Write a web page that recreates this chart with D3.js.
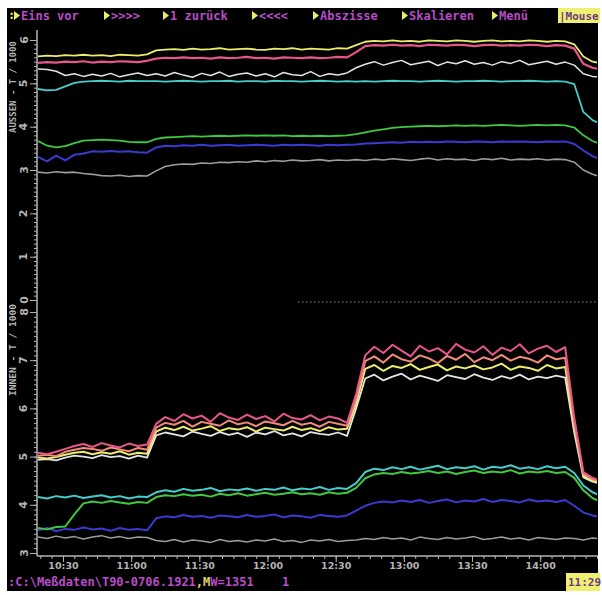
<!DOCTYPE html>
<html><head><meta charset="utf-8">
<script src="https://cdn.jsdelivr.net/npm/d3@7"></script>
<style>html,body{margin:0;padding:0;background:#fff;}svg{display:block;}</style>
</head><body><svg id="c" width="602" height="595"></svg>
<script>
// ---------- DATA ----------
const times = ["10:19","10:23","10:27","10:31","10:35","10:39","10:43","10:47","10:51","10:55","10:59",
"11:03","11:07","11:11","11:15","11:19","11:23","11:27","11:31","11:35","11:39","11:43","11:47","11:51","11:55","11:59",
"12:03","12:07","12:11","12:15","12:19","12:23","12:27","12:31","12:35","12:39","12:43","12:47","12:51","12:55","12:59",
"13:03","13:07","13:11","13:15","13:19","13:23","13:27","13:31","13:35","13:39","13:43","13:47","13:51","13:55","13:59",
"14:03","14:07","14:11","14:15","14:19","14:23","14:27"];
const xTickLabels = ["10:30","11:00","11:30","12:00","12:30","13:00","13:30","14:00"];
const upperTicks = [0,1,2,3,4,5,6];
const lowerTicks = [3,4,5,6,7,8];
const upperTitle = "AUSSEN - T / 1000";
const lowerTitle = "INNEN - T / 1000";
const menuLabels = ["Eins vor",">>>>","1 zurück","<<<<","Abszisse","Skalieren","Menü"];
const mouseLabel = "|Mouse";
const statusPath = ":C:\\Meßdaten\\T90-0706.1921";
const statusMark = ",M";
const statusValue = "W=1351";
const statusIndex = "1";
const clockLabel = "11:29";

// upper panel (AUSSEN-T / 1000)
const aussenYellow = [5.62,5.64,5.63,5.65,5.64,5.66,5.64,5.65,5.63,5.66,5.65,5.64,5.67,
5.76,5.78,5.79,5.77,5.80,5.78,5.79,5.81,5.78,5.79,5.80,5.78,5.77,5.80,5.79,5.81,5.78,5.80,5.79,5.78,5.81,5.80,
5.88,
5.96,5.98,5.97,5.99,5.97,5.98,5.96,5.99,5.98,5.97,5.99,5.98,5.96,5.98,5.99,5.97,5.98,5.97,5.99,5.98,5.96,5.98,5.97,
5.90,5.62,5.50,5.46];
const aussenPink = [5.47,5.49,5.48,5.50,5.49,5.51,5.48,5.50,5.49,5.51,5.50,5.49,5.52,
5.57,5.59,5.58,5.60,5.58,5.59,5.57,5.60,5.58,5.59,5.61,5.58,5.59,5.57,5.60,5.59,5.58,5.60,5.58,5.59,5.61,5.60,
5.72,
5.86,5.88,5.87,5.89,5.87,5.88,5.86,5.89,5.88,5.87,5.89,5.88,5.86,5.88,5.89,5.87,5.88,5.87,5.89,5.88,5.86,5.88,5.87,
5.80,5.45,5.36,5.32];
const aussenWhite = [5.33,5.32,5.28,5.18,5.22,5.16,5.21,5.17,5.23,5.15,5.20,5.24,5.18,
5.22,5.17,5.25,5.19,5.14,5.23,5.18,5.26,5.16,5.21,5.24,5.17,5.22,5.15,5.25,5.20,5.18,5.27,5.16,5.22,5.19,5.24,
5.36,
5.44,5.50,5.42,5.48,5.53,5.43,5.47,5.51,5.41,5.49,5.45,5.52,5.44,5.48,5.42,5.50,5.46,5.53,5.43,5.47,5.51,5.44,5.49,
5.42,5.22,5.16,5.14];
const aussenCyan = [4.87,4.84,4.85,4.93,5.01,5.04,5.05,5.06,5.05,5.04,5.06,5.05,5.05,
5.05,5.04,5.05,5.06,5.05,5.04,5.05,5.05,5.06,5.04,5.05,5.05,5.04,5.06,5.05,5.05,5.04,5.05,5.06,5.05,5.04,5.05,
5.04,
5.05,5.04,5.05,5.06,5.05,5.05,5.04,5.05,5.06,5.05,5.04,5.05,5.05,5.06,5.05,5.04,5.05,5.05,5.06,5.05,5.04,5.05,5.04,
4.98,4.34,4.15,4.05];
const aussenGreen = [3.67,3.56,3.52,3.55,3.62,3.68,3.69,3.70,3.69,3.68,3.65,3.64,3.64,
3.72,3.75,3.76,3.77,3.78,3.77,3.78,3.79,3.78,3.79,3.80,3.79,3.80,3.79,3.80,3.78,3.79,3.78,3.79,3.78,3.79,3.80,
3.83,3.87,3.91,3.94,3.97,3.99,4.00,4.01,4.02,4.01,4.02,4.03,4.02,4.03,4.02,4.03,4.04,4.03,4.02,4.03,4.04,4.03,4.04,4.03,
3.98,3.80,3.67,3.59];
const aussenBlue = [3.30,3.20,3.33,3.22,3.35,3.38,3.43,3.42,3.44,3.42,3.43,3.41,3.40,
3.52,3.56,3.55,3.57,3.56,3.58,3.56,3.57,3.58,3.56,3.57,3.58,3.57,3.56,3.58,3.57,3.58,3.57,3.56,3.58,3.57,3.58,
3.59,3.61,3.62,3.63,3.64,3.63,3.65,3.64,3.65,3.64,3.66,3.65,3.64,3.66,3.65,3.64,3.66,3.65,3.66,3.65,3.64,3.66,3.65,3.66,
3.60,3.45,3.32,3.24];
const aussenGray = [2.95,2.93,2.96,2.94,2.95,2.92,2.90,2.87,2.86,2.88,2.85,2.87,2.86,
2.98,3.08,3.12,3.14,3.13,3.16,3.15,3.18,3.17,3.19,3.18,3.21,3.19,3.22,3.20,3.23,3.21,3.22,3.24,3.21,3.23,3.22,
3.24,3.22,3.25,3.23,3.26,3.24,3.22,3.25,3.27,3.23,3.26,3.24,3.25,3.22,3.26,3.24,3.27,3.23,3.25,3.24,3.26,3.23,3.25,3.24,
3.18,3.00,2.90,2.84];

// lower panel (INNEN-T / 1000)
const innenPink = [5.08,5.05,5.10,5.16,5.22,5.26,5.20,5.28,5.23,5.19,5.27,5.22,5.25,
5.68,5.82,5.74,5.88,5.79,5.85,5.72,5.90,5.81,5.76,5.87,5.78,5.84,5.73,5.89,5.80,5.77,5.86,5.75,5.83,5.79,5.70,
6.30,
7.10,7.28,7.15,7.32,7.20,7.08,7.30,7.18,7.25,7.12,7.34,7.22,7.16,7.29,7.11,7.26,7.19,7.33,7.14,7.24,7.30,7.17,7.27,
5.80,4.68,4.56,4.49];
const innenSalmon = [5.02,5.04,5.01,5.10,5.14,5.18,5.16,5.12,5.19,5.15,5.11,5.18,5.14,
5.60,5.70,5.66,5.74,5.62,5.72,5.68,5.64,5.75,5.67,5.71,5.63,5.73,5.69,5.65,5.74,5.66,5.70,5.62,5.72,5.68,5.64,
6.20,
6.98,7.08,6.95,7.12,7.02,6.97,7.10,7.04,6.94,7.09,7.01,7.13,6.96,7.06,7.00,7.11,6.99,7.07,7.03,6.95,7.10,7.02,7.05,
5.70,4.64,4.53,4.47];
const innenYellow = [4.98,4.96,4.99,5.04,5.08,5.10,5.05,5.09,5.06,5.11,5.04,5.08,5.06,
5.52,5.60,5.55,5.62,5.54,5.58,5.63,5.53,5.59,5.56,5.61,5.52,5.60,5.57,5.54,5.62,5.55,5.59,5.53,5.61,5.56,5.58,
6.10,
6.82,6.90,6.78,6.88,6.84,6.92,6.80,6.86,6.91,6.79,6.87,6.83,6.89,6.81,6.85,6.93,6.80,6.87,6.84,6.78,6.90,6.83,6.86,
5.60,4.60,4.50,4.45];
const innenWhite = [4.93,4.95,4.92,4.98,5.02,5.00,4.97,5.03,4.99,5.01,4.96,5.02,4.98,
5.44,5.50,5.46,5.42,5.52,5.47,5.43,5.51,5.45,5.49,5.41,5.50,5.46,5.53,5.44,5.48,5.42,5.51,5.47,5.45,5.50,5.43,
6.00,
6.62,6.70,6.58,6.66,6.72,6.60,6.68,6.63,6.57,6.69,6.65,6.61,6.71,6.64,6.59,6.67,6.62,6.70,6.60,6.66,6.63,6.68,6.64,
5.50,4.57,4.48,4.43];
const innenCyan = [4.16,4.13,4.18,4.15,4.19,4.14,4.17,4.20,4.15,4.18,4.13,4.17,4.16,
4.26,4.30,4.27,4.33,4.29,4.31,4.35,4.28,4.32,4.30,4.34,4.29,4.33,4.31,4.36,4.30,4.34,4.32,4.37,4.31,4.35,4.33,
4.45,
4.68,4.75,4.72,4.78,4.74,4.79,4.73,4.77,4.81,4.74,4.78,4.76,4.80,4.73,4.79,4.77,4.82,4.75,4.78,4.74,4.80,4.76,4.79,
4.66,4.40,4.26,4.18];
const innenGreen = [3.52,3.49,3.54,3.55,3.80,4.03,4.07,4.04,4.08,4.05,4.02,4.06,4.04,
4.16,4.20,4.18,4.22,4.19,4.21,4.17,4.23,4.20,4.24,4.19,4.22,4.25,4.21,4.23,4.26,4.22,4.24,4.21,4.26,4.23,4.25,
4.35,
4.55,4.63,4.66,4.64,4.68,4.65,4.67,4.70,4.66,4.69,4.64,4.68,4.71,4.66,4.69,4.67,4.72,4.65,4.69,4.67,4.70,4.66,4.68,
4.56,4.30,4.14,4.05];
const innenBlue = [3.47,3.52,3.45,3.50,3.48,3.53,3.49,3.51,3.46,3.52,3.48,3.50,3.47,
3.72,3.76,3.74,3.79,3.75,3.77,3.73,3.78,3.76,3.74,3.79,3.75,3.77,3.80,3.74,3.78,3.76,3.73,3.79,3.77,3.75,3.78,
3.88,
3.98,4.04,4.07,4.05,4.09,4.06,4.10,4.04,4.08,4.11,4.05,4.09,4.07,4.12,4.06,4.10,4.08,4.05,4.11,4.07,4.09,4.06,4.10,
3.98,3.84,3.78,3.74];
const innenGray = [3.33,3.30,3.35,3.31,3.34,3.29,3.33,3.36,3.31,3.34,3.30,3.33,3.32,
3.26,3.24,3.28,3.23,3.27,3.25,3.22,3.28,3.24,3.26,3.23,3.27,3.25,3.29,3.24,3.26,3.22,3.27,3.25,3.28,3.24,3.26,
3.27,
3.30,3.28,3.32,3.29,3.31,3.27,3.33,3.30,3.28,3.32,3.29,3.31,3.34,3.28,3.30,3.33,3.29,3.31,3.27,3.32,3.30,3.28,3.31,
3.30,3.27,3.31,3.29];

// ---------- DRAW ----------
const svg = d3.select("#c");
const parse = d3.timeParse("%H:%M");
const tDates = times.map(parse);

const PL = 38, PR = 597;
const x = d3.scaleTime().domain([parse("10:19"), parse("14:25")]).range([PL, PR]);
const yU = d3.scaleLinear().domain([0, 6]).range([300, 40]);
const yL = d3.scaleLinear().domain([3, 8]).range([553, 312]);

const C = {yellow:"#ecec6c", pink:"#e8568a", salmon:"#f08c78", white:"#e4e4e4",
           cyan:"#46cccc", green:"#40c840", blue:"#3a3ad2", gray:"#9c9c9c"};
const axisCol = "#b4b4b4";
const mono = "'DejaVu Sans Mono', monospace";

// screen background
svg.append("rect").attr("x",7).attr("y",8).attr("width",591).attr("height",583).attr("fill","#000");

svg.append("defs").append("clipPath").attr("id","plot")
  .append("rect").attr("x",PL).attr("y",30).attr("width",PR-PL).attr("height",526);

// menu bar
const menuX = [14,104,163,252,313,402,492];
svg.append("text").attr("x",8).attr("y",19).attr("fill",C.yellow)
  .attr("font-family",mono).attr("font-weight","bold").attr("font-size",12).text(":");
menuLabels.forEach((m,i)=>{
  const tx = menuX[i];
  svg.append("path").attr("d",`M${tx},11 L${tx+6},15.5 L${tx},20 Z`).attr("fill",C.yellow);
  svg.append("text").attr("x",tx+7).attr("y",19.5).attr("fill","#b84cc8")
    .attr("font-family",mono).attr("font-weight","bold").attr("font-size",12).text(m);
});
svg.append("rect").attr("x",558).attr("y",8).attr("width",42).attr("height",15).attr("fill","#f0f070");
svg.append("text").attr("x",559).attr("y",19.5).attr("fill","#6a3a8a")
  .attr("font-family",mono).attr("font-weight","bold").attr("font-size",11).text(mouseLabel);

// status line
const st = svg.append("text").attr("x",8).attr("y",586)
  .attr("font-family",mono).attr("font-weight","bold").attr("font-size",12).attr("fill","#b84cc8");
st.append("tspan").text(statusPath);
st.append("tspan").attr("fill","#d8d860").text(statusMark);
st.append("tspan").text(statusValue);
svg.append("text").attr("x",282).attr("y",586).attr("font-family",mono).attr("font-weight","bold")
  .attr("font-size",12).attr("fill","#b84cc8").text(statusIndex);
svg.append("rect").attr("x",566).attr("y",573).attr("width",34).attr("height",18).attr("fill","#f0f070");
svg.append("text").attr("x",568).attr("y",586).attr("fill","#6a3a8a")
  .attr("font-family",mono).attr("font-weight","bold").attr("font-size",11).text(clockLabel);

// y axes (minor ticks)
function yAxis(scale, lo, hi, ticks){
  const minor = d3.range(lo, hi + 0.001, 0.1);
  const gm = svg.append("g").attr("transform","translate(37,0)")
    .call(d3.axisLeft(scale).tickValues(minor).tickSize(3).tickFormat(""));
  gm.select(".domain").remove();
  gm.selectAll("line").attr("stroke",axisCol);
  const gM = svg.append("g").attr("transform","translate(37,0)")
    .call(d3.axisLeft(scale).tickValues(ticks).tickSize(7).tickFormat(""));
  gM.select(".domain").remove();
  gM.selectAll("line").attr("stroke",axisCol);
  ticks.forEach(t=>{
    const yy = scale(t);
    svg.append("text").attr("x",24).attr("y",yy).attr("transform",`rotate(-90,24,${yy})`)
      .attr("text-anchor","middle").attr("dominant-baseline","central")
      .attr("font-family","'DejaVu Sans', sans-serif").attr("font-weight","bold")
      .attr("font-size",11).attr("fill",axisCol).text(t);
  });
}
yAxis(yU, 0, 6, upperTicks);
yAxis(yL, 3, 8, lowerTicks);
svg.append("line").attr("x1",37).attr("x2",37).attr("y1",30).attr("y2",556)
  .attr("stroke",axisCol).attr("stroke-width",1.5);

// axis titles
[[upperTitle, 87],[lowerTitle, 350]].forEach(([t,cy])=>{
  svg.append("text").attr("x",13).attr("y",cy).attr("transform",`rotate(-90,13,${cy})`)
    .attr("text-anchor","middle").attr("dominant-baseline","central")
    .attr("font-family",mono).attr("font-weight","bold").attr("font-size",8.5)
    .attr("textLength",92).attr("lengthAdjust","spacingAndGlyphs")
    .attr("fill",axisCol).text(t);
});

// x axis
const gx = svg.append("g").attr("transform","translate(0,556)")
  .call(d3.axisBottom(x).ticks(d3.timeMinute.every(5)).tickSize(3).tickFormat(""));
gx.select(".domain").remove();
gx.selectAll("line").attr("stroke",axisCol);
const gX = svg.append("g").attr("transform","translate(0,556)")
  .call(d3.axisBottom(x).tickValues(xTickLabels.map(parse)).tickSize(6).tickFormat(d3.timeFormat("%H:%M")));
gX.select(".domain").remove();
gX.selectAll("line").attr("stroke",axisCol);
gX.selectAll("text").attr("fill",axisCol).attr("font-family","'DejaVu Sans', sans-serif")
  .attr("font-weight","bold").attr("font-size",9.5).attr("y",5).attr("dy","0.85em");
svg.append("line").attr("x1",37).attr("x2",598).attr("y1",556).attr("y2",556)
  .attr("stroke",axisCol).attr("stroke-width",1.5);

// marker line between panels
svg.append("line").attr("x1",298).attr("x2",597).attr("y1",302).attr("y2",302)
  .attr("stroke","#8a8a8a").attr("stroke-dasharray","1.5,2.5");

// series
const plot = svg.append("g").attr("clip-path","url(#plot)");
function draw(vals, scale, col, w){
  const line = d3.line().x((d,i)=>x(tDates[i])).y(d=>scale(d));
  plot.append("path").datum(vals).attr("d",line).attr("fill","none")
    .attr("stroke",col).attr("stroke-width",w).attr("stroke-linejoin","round");
}
draw(aussenGray, yU, C.gray, 1.6);
draw(aussenBlue, yU, C.blue, 2);
draw(aussenGreen, yU, C.green, 1.8);
draw(aussenCyan, yU, C.cyan, 1.8);
draw(aussenWhite, yU, C.white, 1.5);
draw(aussenPink, yU, C.pink, 2.2);
draw(aussenYellow, yU, C.yellow, 1.8);

draw(innenGray, yL, C.gray, 1.5);
draw(innenBlue, yL, C.blue, 2);
draw(innenGreen, yL, C.green, 2);
draw(innenCyan, yL, C.cyan, 2);
draw(innenWhite, yL, C.white, 1.8);
draw(innenYellow, yL, C.yellow, 2);
draw(innenSalmon, yL, C.salmon, 2);
draw(innenPink, yL, C.pink, 2);
</script>
</body></html>
